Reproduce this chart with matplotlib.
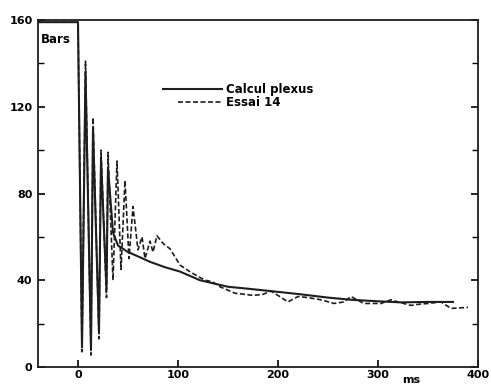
import numpy as np
import matplotlib.pyplot as plt
from matplotlib.ticker import MultipleLocator

# Essai 14 (mesure, tirets)
t_essai = [-40, 0, 4, 7.5, 13, 15, 21, 23, 28.5, 30, 35, 39, 43, 47, 51, 55,
           60, 64, 67, 72, 75, 79, 85, 92, 102, 110, 119, 127, 134, 142, 152,
           157, 167, 175, 185, 193, 200, 210, 220, 230, 243, 256, 266, 273, 279,
           286, 303, 313, 320, 333, 342, 350, 363, 373, 380, 390]
p_essai = [159, 159, 7, 141, 5.5, 115, 13, 100, 32, 99, 40, 95, 45, 86, 50, 74,
           54, 60, 50, 58, 53, 60.5, 57, 54.5, 47, 44.5, 42, 40, 39.4, 37, 35,
           34, 33.5, 33, 33.5, 35, 33, 30, 32.5, 32, 31, 29.3, 30, 32.5, 31,
           29.3, 29.3, 31, 30, 28.4, 29, 29.3, 30, 27, 27.2, 27.5]

# Calcul plexus (trait plein)
t_calc = [-40, 0, 4, 7.5, 13, 15, 21, 23, 28.5, 30, 35, 40, 50, 60, 72, 87,
          102, 122, 150, 172, 203, 223, 250, 273, 300, 323, 350, 375]
p_calc = [159, 159, 9, 136, 8, 110, 16, 96, 36, 92, 62, 56, 53, 51, 48.5, 46,
          44, 40, 37, 36, 34.5, 33.5, 32, 31, 30.3, 29.8, 30, 30]

COULEUR = "#1e1e1e"
plt.rcParams["font.family"] = ["DejaVu Sans"]
plt.rcParams["font.weight"] = "bold"

fig = plt.figure(figsize=(4.91, 3.86), dpi=100)
ax = fig.add_axes([38/491, 1 - 367/386, 440/491, 347/386])

ax.plot(t_essai, p_essai, color=COULEUR, lw=1.2, ls=(0, (3, 1.5)))
ax.plot(t_calc, p_calc, color=COULEUR, lw=1.5)

ax.set_xlim(-40, 400)
ax.set_ylim(0, 160)
ax.set_xticks([0, 100, 200, 300, 400])
ax.set_xticklabels(["0", "100", "200", "300", "400"])
ax.set_yticks([0, 40, 80, 120, 160])
ax.yaxis.set_minor_locator(MultipleLocator(20))
ax.tick_params(direction="in", length=5, width=1.2, labelsize=8,
               right=True, top=False, pad=2)
ax.tick_params(axis="y", pad=4)
ax.tick_params(which="minor", direction="in", length=4, width=1, right=True)
for lab in ax.get_xticklabels() + ax.get_yticklabels():
    lab.set_fontweight("bold")
for s in ax.spines.values():
    s.set_linewidth(1.3)
    s.set_color(COULEUR)

ax.text(-37, 151, "Bars", fontsize=8.5, fontweight="bold", va="center")
ax.text(333, -6, "ms", fontsize=8, fontweight="bold", va="center", ha="center")

# légende dessinée à la main
ax.plot([85, 144], [128, 128], color=COULEUR, lw=1.5)
ax.plot([100, 145], [122, 122], color=COULEUR, lw=1.2, ls=(0, (3, 1.5)))
ax.text(148, 128, "Calcul plexus", fontsize=8.5, fontweight="bold", va="center")
ax.text(148, 122, "Essai 14", fontsize=8.5, fontweight="bold", va="center")

plt.savefig("out.png", dpi=100)
